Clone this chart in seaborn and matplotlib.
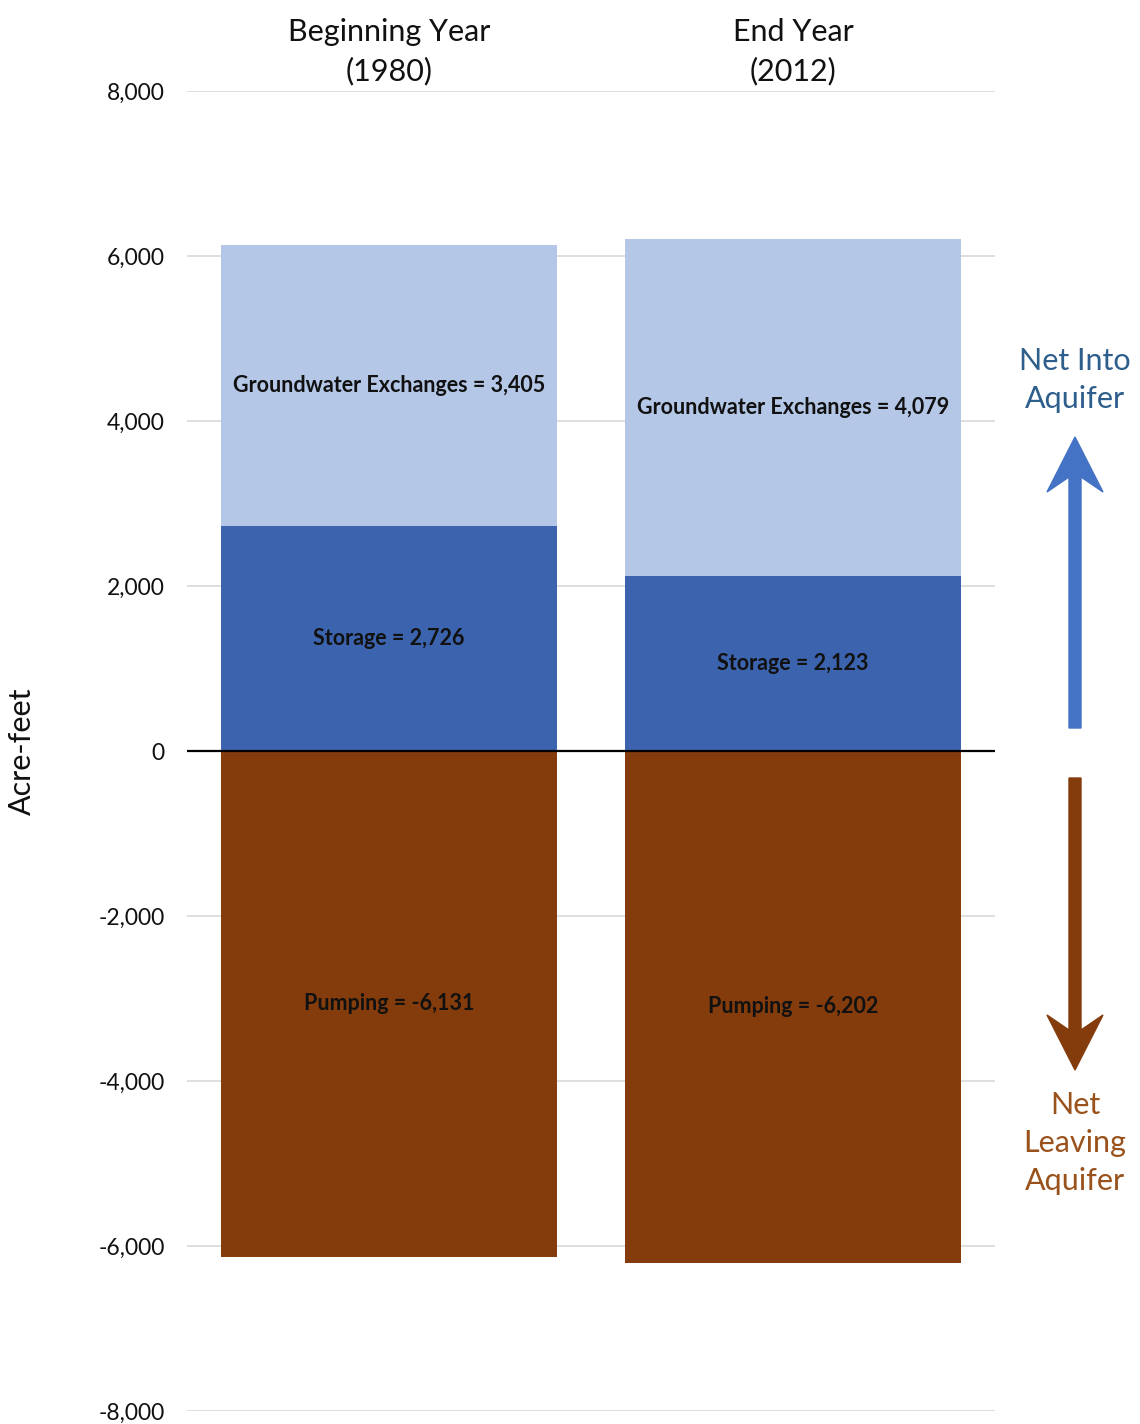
import matplotlib
matplotlib.use("Agg")
import matplotlib.pyplot as plt
from matplotlib.patches import Polygon
import seaborn as sns
import pandas as pd

# Water budget components (acre-feet)
periods = ["Beginning Year\n(1980)", "End Year\n(2012)"]
storage = [2726, 2123]
groundwater_exchanges = [3405, 4079]
pumping = [-6131, -6202]
y_ticks = [-8000, -6000, -4000, -2000, 0, 2000, 4000, 6000, 8000]

c_gw = "#B4C7E7"
c_storage = "#3C64AE"
c_pump = "#843C0C"

sns.set_theme(style="white")
plt.rcParams["font.family"] = ["Lato", "DejaVu Sans"]

df = pd.DataFrame({"period": periods, "storage": storage,
                   "gw": groundwater_exchanges, "pumping": pumping})

W, H = 1140, 1424
fig = plt.figure(figsize=(W / 100, H / 100), dpi=100)
ax = fig.add_axes([187 / W, 1 - 1411 / H, 808 / W, 1320 / H])

bw = 0.83
sns.barplot(data=df, x="period", y="pumping", color=c_pump, width=bw,
            saturation=1, ax=ax, linewidth=0)
sns.barplot(data=df, x="period", y="storage", color=c_storage, width=bw,
            saturation=1, ax=ax, linewidth=0)
sns.barplot(data=df, x="period", y="gw", bottom=df["storage"], color=c_gw,
            width=bw, saturation=1, ax=ax, linewidth=0)

conts = ax.containers
lab_kw = dict(label_type="center", fontsize=15.5, fontweight="bold", color="#111111")
ax.bar_label(conts[0], labels=[f"Pumping = {v:,}" for v in pumping], **lab_kw)
ax.bar_label(conts[1], labels=[f"Storage = {v:,}" for v in storage], **lab_kw)
ax.bar_label(conts[2], labels=[f"Groundwater Exchanges = {v:,}" for v in groundwater_exchanges], **lab_kw)

ax.set_xlim(-0.5, 1.5)
ax.set_ylim(-8000, 8000)
ax.set_yticks(y_ticks)
ax.set_yticklabels([f"{t:,}" for t in y_ticks], fontsize=16.5, color="#111111")
ax.yaxis.grid(True, color="#D9D9D9", linewidth=1.2)
ax.set_axisbelow(True)
ax.axhline(0, color="black", linewidth=1.6, zorder=5)
for s in ax.spines.values():
    s.set_visible(False)
ax.tick_params(axis="y", length=0, pad=16)
ax.xaxis.tick_top()
ax.tick_params(axis="x", length=0, pad=4, labelsize=22, labelcolor="#111111")
for t in ax.get_xticklabels():
    t.set_linespacing(1.45)
ax.set_xlabel("")
ax.set_ylabel("")
fig.text(22 / W, 1 - 751 / H, "Acre-feet", rotation=90, fontsize=22,
         ha="center", va="center", color="#111111")


def arrow_poly(x, y_tail, y_tip, color):
    """Notched arrow drawn in figure pixels (y measured from the top)."""
    d = 1 if y_tip > y_tail else -1
    half_shaft, half_head, head_len, notch = 6, 28, 55, 15
    wing_y = y_tip - d * head_len
    notch_y = y_tip - d * (head_len - notch)
    pts = [(x, y_tip), (x + half_head, wing_y), (x + half_shaft, notch_y),
           (x + half_shaft, y_tail), (x - half_shaft, y_tail),
           (x - half_shaft, notch_y), (x - half_head, wing_y)]
    pts = [(px / W, 1 - py / H) for px, py in pts]
    fig.patches.append(Polygon(pts, closed=True, color=color,
                               transform=fig.transFigure, figure=fig))


# Direction arrows on the right margin
arrow_poly(1075, 728, 437, "#4472C4")
arrow_poly(1075, 778, 1070, c_pump)
fig.text(1075 / W, 1 - 380 / H, "Net Into\nAquifer", color="#2E5E8C",
         fontsize=22, ha="center", va="center", linespacing=1.45)
fig.text(1075 / W, 1 - 1143 / H, "Net\nLeaving\nAquifer", color="#9A521C",
         fontsize=22, ha="center", va="center", linespacing=1.45)

fig.savefig("out.png", dpi=100)
